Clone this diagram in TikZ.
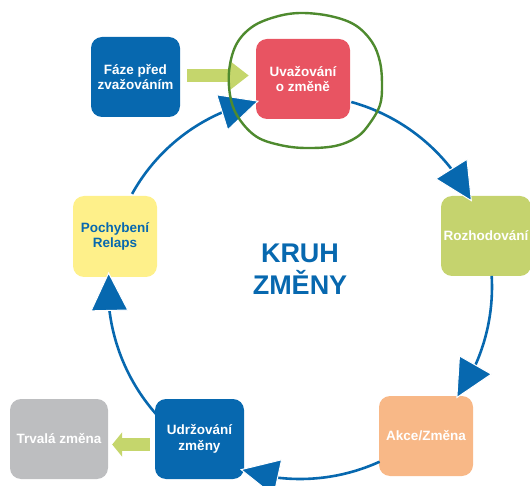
\documentclass[tikz,border=0pt]{standalone}
\usepackage{fontspec}
\setmainfont{Liberation Sans}
\usetikzlibrary{arrows.meta,bending}
\definecolor{cblue}{RGB}{7,104,175}
\definecolor{cred}{RGB}{232,84,98}
\definecolor{cgreenbox}{RGB}{197,211,110}
\definecolor{corange}{RGB}{248,184,135}
\definecolor{cgrey}{RGB}{189,190,192}
\definecolor{cyellow}{RGB}{254,240,138}
\definecolor{cgarrow}{RGB}{197,214,108}
\definecolor{cloop}{RGB}{78,138,46}
\tikzset{
  box/.style={rounded corners=11pt, inner sep=0pt, align=center,
    font=\bfseries\fontsize{13.5}{15.5}\selectfont, text=white, minimum height=80pt},
  cyc/.style={draw=cblue, line width=2.6pt,
    -{Triangle[length=39pt,width=38pt,line width=1pt,color=white,fill=cblue]}},
  garrowA/.style={draw=cgarrow, line width=13pt, shorten <=7pt, shorten >=7pt,
    -{Triangle[length=19pt,width=28pt]}},
  garrowB/.style={draw=cgarrow, line width=13pt, shorten <=5pt, shorten >=4pt,
    -{Triangle[length=10pt,width=24pt]}},
  loop/.style={draw=cloop, line width=2.4pt, line join=round}
}
\begin{document}
\begin{tikzpicture}[x=1pt,y=1pt]
\useasboundingbox (0,0) rectangle (530,-486);
\coordinate (c) at (300,-287);
% boxes
\node[box, fill=cblue, minimum width=89pt] (pre) at (135.5,-77) {Fáze před\\zvažováním};
\node[box, fill=cred, minimum width=94pt] (uva) at (303,-79) {Uvažování\\o změně};
\node[box, fill=cgreenbox, minimum width=90pt] (roz) at (486,-236) {Rozhodování};
\node[box, fill=corange, minimum width=94pt] (akce) at (426,-436) {Akce/Změna};
\node[box, fill=cblue, minimum width=89pt] (udr) at (199.5,-439) {Udržování\\změny};
\node[box, fill=cgrey, minimum width=98pt] (trv) at (59,-439) {Trvalá změna};
\node[box, fill=cyellow, text=cblue, minimum width=84pt, minimum height=81pt] (poch) at (115,-236.5) {Pochybení\\Relaps};
% title
\node[font=\bfseries\fontsize{27}{32}\selectfont, text=cblue, align=center] (title) at (300,-269) {KRUH\\ZMĚNY};
% green arrows
\draw[garrowA] ([yshift=1.5pt]pre.east) -- ([yshift=3.5pt]uva.west);
\draw[garrowB] ([yshift=-5.5pt]udr.west) -- ([yshift=-5.5pt]trv.east);
% cycle arcs
\draw[cyc] (c) ++(74.5:192) arc[start angle=74.5, end angle=26.4, radius=192pt];
\draw[cyc] (c) ++(3.3:192) arc[start angle=3.3, end angle=-35.5, radius=192pt];
\draw[cyc] (c) ++(-65.5:192) arc[start angle=-65.5, end angle=-108.2, radius=192pt];
\draw[cyc] (c) ++(-138.6:192) arc[start angle=-138.6, end angle=-184.5, radius=192pt];
\draw[cyc] (c) ++(-209:192) arc[start angle=-209, end angle=-258.5, radius=188pt];
% hand-drawn loop
\draw[loop] plot[smooth cycle, tension=0.6] coordinates {
 (236,-45) (252,-27) (275,-17) (300,-13) (330,-16) (355,-25) (372,-42)
 (380,-62) (382,-85) (380,-105) (370,-123) (357,-137) (335,-146)
 (305,-148) (280,-145) (257,-137) (240,-120) (231,-100) (229,-72)};
\end{tikzpicture}
\end{document}
